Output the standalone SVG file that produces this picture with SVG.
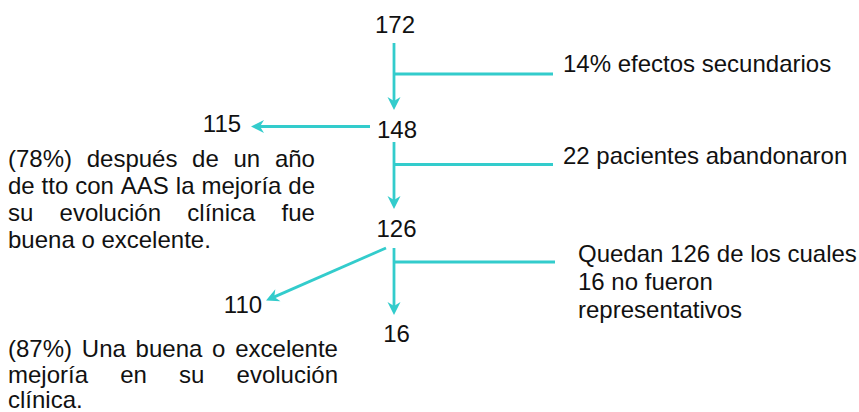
<svg xmlns="http://www.w3.org/2000/svg" width="859" height="412" viewBox="0 0 859 412">
<style>
text{font-family:"Liberation Sans",Arial,sans-serif;font-size:24px;fill:#111}
.num{text-anchor:middle}
.ln{fill:none;stroke:#33CCCC;stroke-width:2.8}
</style>
<defs>
<marker id="ah" viewBox="-8 -8 16 16" markerWidth="16" markerHeight="16" refX="0" refY="0" markerUnits="userSpaceOnUse" orient="auto">
<path d="M6,0 L-7,-6.5 L-3,0 L-7,6.5 Z" fill="#33CCCC"/>
</marker>
</defs>
<g id="connectors">
<path class="ln" d="M394,43 V104" marker-end="url(#ah)"/>
<path class="ln" d="M394,74 H553"/>
<path class="ln" d="M370,126.5 H257" marker-end="url(#ah)"/>
<path class="ln" d="M394,142 V203" marker-end="url(#ah)"/>
<path class="ln" d="M394,164.5 H553"/>
<path class="ln" d="M386,248 L271.5,298.1" marker-end="url(#ah)"/>
<path class="ln" d="M394,248 V309" marker-end="url(#ah)"/>
<path class="ln" d="M394,262 H555"/>
</g>
<g id="n172"><text class="num" x="395" y="33">172</text></g>
<g id="n148"><text class="num" x="397" y="138">148</text></g>
<g id="n115"><text class="num" x="222" y="132">115</text></g>
<g id="n126"><text class="num" x="396.5" y="237">126</text></g>
<g id="n110"><text class="num" x="243" y="313">110</text></g>
<g id="n16"><text class="num" x="396.5" y="342">16</text></g>
<g id="lbl1"><text x="563" y="72">14% efectos secundarios</text></g>
<g id="lbl2"><text x="563" y="164">22 pacientes abandonaron</text></g>
<g id="lbl3">
<text x="578" y="262">Quedan 126 de los cuales</text>
<text x="578" y="290">16 no fueron</text>
<text x="578" y="318">representativos</text>
</g>
<g id="para1">
<text y="167"><tspan x="8">(78%)</tspan><tspan x="86.7">después</tspan><tspan x="192.1">de</tspan><tspan x="233.5">un</tspan><tspan x="274.9">año</tspan></text>
<text y="194"><tspan x="8">de</tspan><tspan x="41.6">tto</tspan><tspan x="75.2">con</tspan><tspan x="120.8">AAS</tspan><tspan x="175.8">la</tspan><tspan x="201.4">mejoría</tspan><tspan x="288.3">de</tspan></text>
<text y="221"><tspan x="8">su</tspan><tspan x="59.6">evolución</tspan><tspan x="187.3">clínica</tspan><tspan x="281.6">fue</tspan></text>
<text x="8" y="248">buena o excelente.</text>
</g>
<g id="para2">
<text y="357"><tspan x="8">(87%)</tspan><tspan x="81.8">Una</tspan><tspan x="135.6">buena</tspan><tspan x="212.1">o</tspan><tspan x="235.2">excelente</tspan></text>
<text y="383"><tspan x="8">mejoría</tspan><tspan x="120.2">en</tspan><tspan x="179.1">su</tspan><tspan x="236.6">evolución</tspan></text>
<text x="8" y="408">clínica.</text>
</g>
</svg>
